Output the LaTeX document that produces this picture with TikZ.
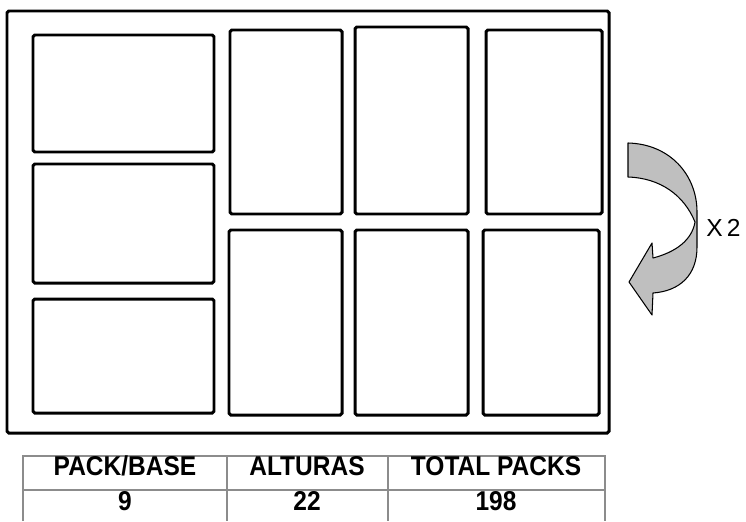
\documentclass[tikz,border=0pt]{standalone}
\usepackage{fontspec}
\setmainfont{Liberation Sans}
\newfontfamily\tabfont{Liberation Sans}[FakeStretch=0.9]
\usetikzlibrary{math}
\definecolor{arrowgray}{RGB}{191,191,191}
\definecolor{tablegray}{RGB}{140,140,140}

\begin{document}
\begin{tikzpicture}[x=0.02cm,y=-0.02cm,
 box/.style={line width=1.7pt,rounded corners=1pt},
 cell/.style={font=\tabfont\fontsize{15.5}{17}\selectfont\bfseries,inner sep=0pt,anchor=base},
 rule/.style={color=tablegray,line width=0.6pt}]
\tikzmath{
\tl=23;%table left
\tr=605;%table right
\ttop=456;
\tmid=490;
}
\useasboundingbox (0,0) rectangle (746,521);

%pallet outline
\draw[box] (7,11) rectangle (609,433);
%lying packs
\foreach \ya/\yb in {35/152,164/283,299/413}{
 \draw[box] (33,\ya) rectangle (214,\yb);
}
%standing packs
\foreach \xa/\xb/\ya in {230/342/30,355/468/27,486/602/30}{
 \draw[box] (\xa,\ya) rectangle (\xb,214);
}
\foreach \xa/\xb in {229/342,355/468,483/599}{
 \draw[box] (\xa,230) rectangle (\xb,415);
}

%turn arrow
\draw[fill=arrowgray,line width=0.6pt,line join=round]
 (628,143) .. controls (670,144) and (697,175) .. (697,212)
 -- (697,247) .. controls (697,275) and (680,291) .. (653,293)
 -- (652,315) -- (629,282) -- (652,243) -- (653,258)
 .. controls (676,252) and (692,240) .. (695,222)
 .. controls (684,195) and (660,178) .. (628,177) -- cycle;
\node[font=\fontsize{14}{16}\selectfont,anchor=west,inner sep=0pt] (times) at (706,228) {X\,2};

%table
\draw[rule] (\tl,521) -- (\tl,\ttop) -- (\tr,\ttop) -- (\tr,521);
\draw[rule] (\tl,\tmid) -- (\tr,\tmid);
\foreach \x in {227,388}{
 \draw[rule] (\x,\ttop) -- (\x,521);
}
\node[cell] (packbase) at (125,475) {PACK/BASE};
\node[cell] (alturas) at (307,475) {ALTURAS};
\node[cell] (total) at (496,475) {TOTAL PACKS};
\node[cell] (nbase) at (125,510) {9};
\node[cell] (nalt) at (307,510) {22};
\node[cell] (ntotal) at (496,510) {198};

\end{tikzpicture}
\end{document}
